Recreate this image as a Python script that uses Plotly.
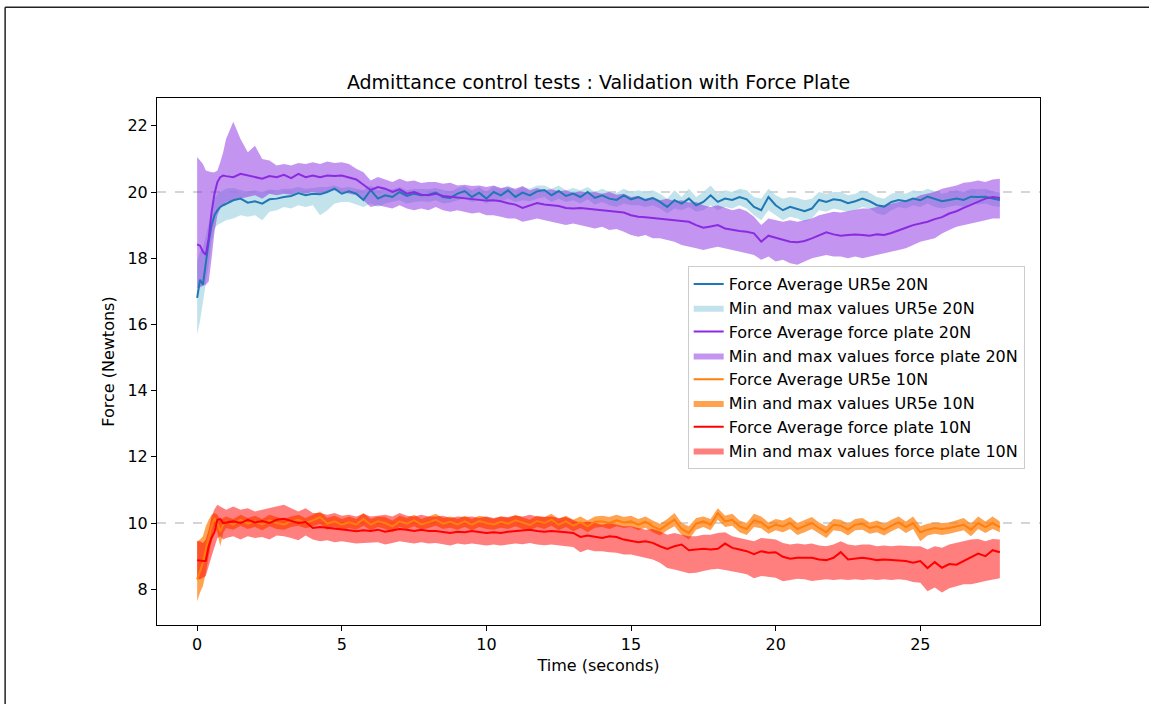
import plotly.graph_objects as go

# Sample times (s): 0.1 s steps during the initial contact, then 0.25 s steps
TIME = [0.0, 0.1, 0.2, 0.3, 0.4, 0.5, 0.6, 0.7, 0.8, 0.9, 1.0] + \
       [round(1.25 + 0.25 * k, 2) for k in range(107)]

# ---- 20 N target ----
ur5e_20_avg = [
    16.8, 17.35, 17.2, 17.9, 18.5, 19.0, 19.3, 19.45, 19.55, 19.6, 19.65,
    19.75, 19.8, 19.68, 19.72,
    19.65, 19.78, 19.8, 19.85,
    19.88, 19.97, 19.9, 19.95,
    19.93, 20.0, 20.1, 19.95,
    20.02, 19.95, 19.76, 20.06,
    19.8, 19.9, 19.85, 20.0,
    19.88, 19.95, 19.9, 19.92,
    19.98, 19.85, 19.82, 19.95,
    20.03, 19.85, 19.98, 19.8,
    20.0, 19.9, 20.05, 19.85,
    19.98, 19.9, 20.02, 20.06,
    19.9, 20.03, 19.88, 19.95,
    19.85, 20.0, 19.82, 19.9,
    19.8, 19.76, 19.9, 19.78,
    19.85, 19.75, 19.82, 19.7,
    19.55, 19.75, 19.65, 19.8,
    19.6, 19.7, 19.9, 19.7,
    19.8, 19.76, 19.85, 19.78,
    19.55, 19.45, 19.85, 19.6,
    19.45, 19.55, 19.48, 19.42,
    19.5, 19.76, 19.7, 19.78,
    19.75, 19.66, 19.72, 19.8,
    19.72, 19.6, 19.56, 19.7,
    19.76, 19.72, 19.8, 19.75,
    19.86, 19.78, 19.72, 19.76,
    19.8, 19.76, 19.86, 19.85,
    19.86, 19.8, 19.76,
]
ur5e_20_min = [
    15.7, 16.1, 16.6, 17.2, 17.8, 18.5, 18.9, 19.0, 19.05, 19.1, 19.15,
    19.2, 19.3, 19.25, 19.3,
    19.15, 19.4, 19.45, 19.55,
    19.5, 19.6, 19.55, 19.6,
    19.3, 19.45, 19.65, 19.7,
    19.7, 19.62, 19.55, 19.65,
    19.55, 19.65, 19.7, 19.75,
    19.65, 19.7, 19.72, 19.7,
    19.75, 19.65, 19.68, 19.75,
    19.8, 19.7, 19.75, 19.65,
    19.8, 19.72, 19.8, 19.7,
    19.75, 19.72, 19.8, 19.85,
    19.7, 19.8, 19.7, 19.75,
    19.65, 19.78, 19.62, 19.7,
    19.6, 19.55, 19.65, 19.6,
    19.6, 19.55, 19.6, 19.5,
    19.35, 19.5, 19.45, 19.55,
    19.4, 19.45, 19.6, 19.45,
    19.55, 19.5, 19.6, 19.5,
    19.3, 19.15, 19.45, 19.3,
    19.15, 19.25, 19.2, 19.1,
    19.2, 19.45, 19.4, 19.5,
    19.45, 19.4, 19.45, 19.55,
    19.5, 19.35, 19.3, 19.45,
    19.55, 19.5, 19.6, 19.55,
    19.65, 19.55, 19.5, 19.55,
    19.6, 19.55, 19.65, 19.62,
    19.65, 19.58, 19.55,
]
ur5e_20_max = [
    17.9, 18.2, 18.3, 18.7, 19.1, 19.5, 19.8, 19.95, 20.0, 20.05, 20.1,
    20.12, 20.05, 20.0, 20.05,
    20.0, 20.08, 20.05, 20.1,
    20.1, 20.15, 20.1, 20.12,
    20.15, 20.15, 20.2, 20.12,
    20.15, 20.1, 20.05, 20.2,
    20.05, 20.1, 20.08, 20.15,
    20.05, 20.1, 20.1, 20.08,
    20.12, 20.05, 20.0, 20.12,
    20.18, 20.05, 20.15, 20.0,
    20.18, 20.1, 20.2, 20.05,
    20.15, 20.1, 20.2, 20.2,
    20.1, 20.2, 20.05, 20.12,
    20.05, 20.15, 20.0, 20.1,
    20.0, 19.98, 20.1, 20.0,
    20.05, 20.0, 20.05, 19.95,
    19.8, 20.05, 19.85, 20.1,
    19.85, 20.0, 20.2, 19.95,
    20.05, 20.0, 20.1, 20.05,
    19.85, 19.8, 20.1, 19.9,
    19.8, 19.85, 19.82, 19.75,
    19.8, 20.0, 19.95, 20.0,
    20.0, 19.9, 19.95, 20.05,
    19.98, 19.85, 19.8, 19.95,
    20.0, 19.95, 20.05, 20.0,
    20.1, 20.02, 19.95, 20.0,
    20.05, 20.0, 20.1, 20.08,
    20.1, 20.02, 19.98,
]
plate_20_avg = [
    18.42, 18.38, 18.2, 18.1, 18.6, 19.4, 19.95, 20.3, 20.45, 20.5, 20.48,
    20.45, 20.55, 20.5, 20.45,
    20.4, 20.48, 20.45, 20.52,
    20.42, 20.55, 20.45, 20.5,
    20.45, 20.5, 20.48, 20.5,
    20.45, 20.38, 20.22, 20.06,
    20.15, 20.1, 20.0, 20.08,
    19.95, 20.0, 19.92, 19.9,
    19.95, 19.88, 19.86, 19.84,
    19.82, 19.8, 19.78, 19.74,
    19.75, 19.72, 19.66, 19.62,
    19.52, 19.6, 19.67, 19.62,
    19.6, 19.58, 19.52, 19.5,
    19.52, 19.5, 19.46, 19.45,
    19.42, 19.42, 19.38, 19.3,
    19.25, 19.24, 19.22, 19.2,
    19.17, 19.15, 19.12, 19.1,
    19.0, 18.92, 18.96, 19.0,
    18.9, 18.85, 18.82, 18.8,
    18.75, 18.5, 18.68, 18.62,
    18.55, 18.5, 18.48, 18.52,
    18.6, 18.68, 18.78, 18.72,
    18.68, 18.7, 18.72, 18.7,
    18.68, 18.72, 18.7, 18.76,
    18.85, 18.92, 19.0, 19.05,
    19.1, 19.18, 19.24, 19.35,
    19.42, 19.52, 19.62, 19.7,
    19.8, 19.85, 19.82,
]
plate_20_min = [
    17.1, 17.12, 17.15, 17.2, 17.3, 18.0, 18.8, 19.3, 19.5, 19.6, 19.7,
    19.75, 19.8, 19.85, 19.9,
    19.8, 19.95, 19.9, 19.95,
    19.92, 20.0, 19.95, 20.0,
    19.95, 20.0, 20.05, 19.98,
    19.95, 19.9, 19.75, 19.55,
    19.6, 19.55, 19.5, 19.6,
    19.5, 19.45, 19.5, 19.45,
    19.55, 19.45, 19.4, 19.45,
    19.4, 19.35, 19.38, 19.3,
    19.3, 19.25, 19.2, 19.2,
    19.1, 19.15, 19.2, 19.15,
    19.1, 19.05, 19.0, 19.05,
    19.0, 18.95, 18.9, 18.95,
    18.85, 18.88, 18.8, 18.7,
    18.65, 18.7, 18.6, 18.6,
    18.55, 18.5, 18.4, 18.35,
    18.3, 18.25, 18.3, 18.35,
    18.3, 18.25, 18.2, 18.15,
    18.1, 17.95, 18.05, 17.9,
    17.95, 17.85, 17.8, 17.9,
    18.0, 18.05, 18.1, 18.05,
    18.05, 18.0, 18.05, 18.0,
    18.05, 18.1, 18.15, 18.2,
    18.25, 18.3, 18.4, 18.5,
    18.55, 18.6, 18.75, 18.85,
    18.95, 19.0, 19.05, 19.1,
    19.15, 19.2, 19.2,
]
plate_20_max = [
    21.06, 20.95, 20.85, 20.65, 20.62, 20.6, 20.6, 20.65, 20.9, 21.2, 21.6,
    22.12, 21.6, 21.2, 21.4,
    21.0, 20.95, 20.8, 20.85,
    20.8, 20.88, 20.85, 20.9,
    20.85, 20.92, 20.88, 20.9,
    20.85, 20.7, 20.6, 20.35,
    20.45, 20.38, 20.3, 20.4,
    20.32, 20.35, 20.27, 20.3,
    20.3, 20.25, 20.28, 20.2,
    20.22, 20.18, 20.2, 20.15,
    20.2, 20.12, 20.15, 20.1,
    20.18, 20.05, 20.12, 20.05,
    20.08, 20.02, 20.05, 19.98,
    20.02, 19.98, 20.0, 19.95,
    20.0, 19.92, 19.95, 19.85,
    19.88, 19.8, 19.85, 19.75,
    19.8, 19.72, 19.75, 19.68,
    19.7, 19.6, 19.55, 19.6,
    19.52, 19.45, 19.5, 19.42,
    19.25, 19.0, 19.2, 19.15,
    19.1, 19.15, 19.1, 19.15,
    19.2, 19.3, 19.35, 19.4,
    19.38, 19.42, 19.45, 19.5,
    19.5, 19.55, 19.6, 19.65,
    19.7, 19.75, 19.8, 19.9,
    19.95, 20.0, 20.1, 20.15,
    20.2, 20.28, 20.3, 20.35,
    20.3, 20.38, 20.4,
]

# ---- 10 N target ----
ur5e_10_avg = [
    8.3, 8.55, 8.8, 9.2, 9.55, 9.9, 10.15, 10.0, 9.75, 9.95, 10.05,
    9.95, 10.1, 9.98, 10.05,
    9.95, 10.08, 10.0, 9.96,
    10.05, 10.1, 10.0, 10.08,
    10.18, 9.98, 10.05, 9.95,
    10.02, 9.96, 10.12, 9.95,
    10.05, 10.0, 9.9, 10.05,
    9.98, 10.08, 9.96, 10.02,
    10.1, 9.98, 10.04, 9.96,
    10.05, 9.95, 10.06, 10.0,
    9.96, 10.04, 9.98, 10.08,
    10.0, 9.94, 10.06, 10.0,
    10.1, 9.95, 10.05, 9.92,
    10.02, 9.9, 10.04, 10.05,
    10.0, 10.08, 10.02, 10.05,
    9.95, 10.04, 9.9, 9.8,
    9.95, 10.1, 9.82, 9.7,
    9.98, 10.05, 9.95, 10.3,
    10.05, 10.1, 9.9, 9.82,
    10.08, 10.02, 9.85, 9.95,
    9.9, 10.0, 9.82, 9.9,
    10.0, 9.85, 9.72, 9.95,
    9.92, 9.8, 9.95, 9.98,
    9.85, 9.9, 9.8, 9.92,
    10.02, 9.88, 10.0, 9.72,
    9.8, 9.85, 9.82, 9.85,
    9.9, 9.95, 9.8, 10.0,
    9.88, 10.0, 9.88,
]
ur5e_10_min = [
    7.64, 7.9, 8.1, 8.5, 9.0, 9.5, 9.9, 9.7, 9.3, 9.7, 9.85,
    9.8, 9.92, 9.82, 9.88,
    9.78, 9.9, 9.82, 9.8,
    9.88, 9.92, 9.84, 9.9,
    9.98, 9.8, 9.88, 9.78,
    9.85, 9.8, 9.92, 9.78,
    9.88, 9.82, 9.72, 9.88,
    9.82, 9.9, 9.8, 9.85,
    9.92, 9.82, 9.86, 9.8,
    9.88, 9.78, 9.88, 9.82,
    9.8, 9.86, 9.82, 9.9,
    9.82, 9.78, 9.88, 9.82,
    9.92, 9.78, 9.88, 9.75,
    9.85, 9.72, 9.86, 9.88,
    9.82, 9.9, 9.85, 9.88,
    9.78, 9.86, 9.72, 9.62,
    9.78, 9.9, 9.64, 9.5,
    9.8, 9.88, 9.78, 10.1,
    9.88, 9.92, 9.72, 9.64,
    9.88, 9.84, 9.68, 9.78,
    9.72, 9.82, 9.64, 9.72,
    9.82, 9.68, 9.55, 9.78,
    9.75, 9.62, 9.78, 9.8,
    9.68, 9.72, 9.62, 9.75,
    9.85, 9.7, 9.82, 9.45,
    9.62, 9.68, 9.64, 9.68,
    9.72, 9.78, 9.6, 9.82,
    9.7, 9.82, 9.72,
]
ur5e_10_max = [
    9.45, 9.5, 9.6, 9.9, 10.1, 10.25, 10.3, 10.25, 10.1, 10.15, 10.2,
    10.12, 10.25, 10.15, 10.22,
    10.12, 10.25, 10.18, 10.12,
    10.2, 10.25, 10.15, 10.25,
    10.35, 10.15, 10.22, 10.12,
    10.2, 10.12, 10.3, 10.12,
    10.2, 10.18, 10.08, 10.22,
    10.15, 10.25, 10.12, 10.2,
    10.28, 10.15, 10.2, 10.12,
    10.22, 10.12, 10.22, 10.18,
    10.12, 10.2, 10.15, 10.25,
    10.18, 10.1, 10.22, 10.18,
    10.28, 10.12, 10.22, 10.1,
    10.2, 10.08, 10.2, 10.22,
    10.18, 10.25, 10.18, 10.22,
    10.12, 10.2, 10.08, 9.98,
    10.12, 10.3, 10.0, 9.9,
    10.15, 10.2, 10.12, 10.45,
    10.22, 10.28, 10.08, 10.0,
    10.28, 10.2, 10.02, 10.12,
    10.08, 10.18, 10.0, 10.08,
    10.18, 10.02, 9.9, 10.12,
    10.1, 9.98, 10.12, 10.15,
    10.02, 10.08, 9.98, 10.1,
    10.2, 10.05, 10.2, 9.9,
    9.98, 10.02, 10.0, 10.02,
    10.08, 10.15, 9.98, 10.2,
    10.05, 10.2, 10.05,
]
plate_10_avg = [
    8.88, 8.86, 8.85, 8.86, 9.3, 9.55, 9.73, 10.1, 10.12, 10.0, 10.02,
    10.05, 10.0, 10.1, 10.02,
    10.06, 10.0, 10.1, 10.13,
    10.06, 10.0, 10.03, 9.85,
    9.88, 9.86, 9.82, 9.8,
    9.78, 9.75, 9.78, 9.76,
    9.8, 9.74, 9.78, 9.82,
    9.8, 9.76, 9.8, 9.76,
    9.76, 9.72, 9.7, 9.74,
    9.72, 9.76, 9.72, 9.7,
    9.72, 9.7, 9.74, 9.76,
    9.78, 9.8, 9.76, 9.74,
    9.76, 9.75, 9.72, 9.7,
    9.58, 9.62, 9.58, 9.55,
    9.6, 9.58, 9.5, 9.45,
    9.42, 9.45, 9.4, 9.3,
    9.22, 9.3, 9.35, 9.18,
    9.2, 9.22, 9.2, 9.22,
    9.38, 9.25, 9.2, 9.15,
    9.06, 9.15, 9.1, 9.12,
    8.98, 8.92, 8.95, 8.95,
    8.95, 8.9, 8.88, 8.95,
    9.12, 8.9, 8.92, 8.95,
    8.92, 8.88, 8.9, 8.88,
    8.88, 8.85, 8.8, 8.85,
    8.64, 8.82, 8.65, 8.76,
    8.74, 8.85, 8.95, 9.08,
    9.0, 9.18, 9.12,
]
plate_10_min = [
    8.3, 8.3, 8.35, 8.4, 8.7, 9.0, 9.3, 9.55, 9.6, 9.5, 9.55,
    9.6, 9.5, 9.6, 9.55,
    9.58, 9.5, 9.62, 9.6,
    9.55, 9.48, 9.62, 9.5,
    9.45, 9.48, 9.42, 9.45,
    9.42, 9.38, 9.4, 9.42,
    9.42, 9.35, 9.4, 9.45,
    9.42, 9.38, 9.42, 9.38,
    9.4, 9.35, 9.32, 9.38,
    9.35, 9.38, 9.35, 9.32,
    9.35, 9.32, 9.36, 9.38,
    9.36, 9.4, 9.35, 9.33,
    9.35, 9.32, 9.3, 9.28,
    9.12, 9.2, 9.15, 9.15,
    9.12, 9.1, 9.05, 9.05,
    9.0, 8.95, 8.9, 8.8,
    8.64, 8.6, 8.55, 8.48,
    8.5, 8.55, 8.6, 8.62,
    8.58, 8.55, 8.5, 8.45,
    8.33, 8.4, 8.38, 8.35,
    8.24, 8.28, 8.32, 8.3,
    8.25, 8.28, 8.3, 8.28,
    8.3, 8.28, 8.3, 8.28,
    8.3, 8.28, 8.3, 8.28,
    8.3, 8.28, 8.22, 8.2,
    7.94, 8.05, 7.9, 8.03,
    8.1, 8.15, 8.15, 8.2,
    8.25, 8.3, 8.33,
]
plate_10_max = [
    9.45, 9.45, 9.4, 9.5, 9.8, 10.2, 10.42, 10.55, 10.5, 10.45, 10.4,
    10.5, 10.4, 10.45, 10.35,
    10.4, 10.45, 10.5, 10.55,
    10.45, 10.35, 10.45, 10.3,
    10.3, 10.25, 10.3, 10.22,
    10.25, 10.2, 10.28, 10.2,
    10.22, 10.25, 10.2, 10.3,
    10.22, 10.2, 10.25, 10.2,
    10.2, 10.22, 10.15, 10.2,
    10.18, 10.2, 10.15, 10.2,
    10.15, 10.2, 10.18, 10.22,
    10.2, 10.25, 10.2, 10.18,
    10.2, 10.15, 10.18, 10.1,
    10.0, 10.05, 10.0, 9.95,
    10.0, 9.95, 9.9, 9.9,
    9.85, 9.8, 9.82, 9.75,
    9.65, 9.7, 9.65, 9.6,
    9.6, 9.65, 9.65, 9.7,
    9.72, 9.6, 9.55, 9.5,
    9.45, 9.55, 9.52, 9.5,
    9.4, 9.35, 9.38, 9.35,
    9.38, 9.32, 9.3, 9.35,
    9.45, 9.35, 9.32, 9.35,
    9.35, 9.3, 9.32, 9.3,
    9.32, 9.3, 9.3, 9.3,
    9.2, 9.3, 9.25, 9.35,
    9.4, 9.45, 9.5, 9.52,
    9.45, 9.52, 9.5,
]

TARGETS = [20, 10]

# (average, min, max, average label, band label, line colour, band colour)
SERIES = [
    (ur5e_20_avg, ur5e_20_min, ur5e_20_max,
     "Force Average UR5e 20N", "Min and max values UR5e 20N",
     "#1f77b4", "rgba(173,216,230,0.75)"),
    (plate_20_avg, plate_20_min, plate_20_max,
     "Force Average force plate 20N", "Min and max values force plate 20N",
     "#8a2be2", "rgba(138,43,226,0.5)"),
    (ur5e_10_avg, ur5e_10_min, ur5e_10_max,
     "Force Average UR5e 10N", "Min and max values UR5e 10N",
     "#ff7f0e", "rgba(255,127,14,0.72)"),
    (plate_10_avg, plate_10_min, plate_10_max,
     "Force Average force plate 10N", "Min and max values force plate 10N",
     "#ff0000", "rgba(255,0,0,0.5)"),
]

FONT = "DejaVu Sans"
fig = go.Figure()

# min/max envelopes first, so every average line sits on top of them
for i, (avg, lo, hi, lab_avg, lab_band, c_line, c_band) in enumerate(SERIES):
    fig.add_trace(go.Scatter(
        x=TIME + TIME[::-1], y=hi + lo[::-1],
        fill="toself", fillcolor=c_band, mode="lines",
        line=dict(width=0, color=c_band),
        name=lab_band, legendrank=2 * i + 2, hoverinfo="skip"))

for i, (avg, lo, hi, lab_avg, lab_band, c_line, c_band) in enumerate(SERIES):
    fig.add_trace(go.Scatter(
        x=TIME, y=avg, mode="lines", line=dict(color=c_line, width=2),
        name=lab_avg, legendrank=2 * i + 1))

# dashed reference lines at the force targets
for target in TARGETS:
    fig.add_shape(type="line", xref="paper", x0=0, x1=1, yref="y",
                  y0=target, y1=target, layer="below",
                  line=dict(color="#c8c8c8", width=1.5, dash="dash"))

# outer figure frame (top and left edges)
fig.add_shape(type="line", xref="paper", yref="paper",
              x0=-0.172, x1=1.13, y0=1.172, y1=1.172,
              line=dict(color="#222222", width=1.5))
fig.add_shape(type="line", xref="paper", yref="paper",
              x0=-0.172, x1=-0.172, y0=1.172, y1=-0.16,
              line=dict(color="#222222", width=1.5))

axis_common = dict(showgrid=False, zeroline=False, showline=True, mirror=True,
                   linecolor="black", linewidth=1, ticks="outside", ticklen=5,
                   tickwidth=1, tickcolor="black",
                   tickfont=dict(family=FONT, size=16, color="black"))

fig.update_layout(
    width=1149, height=704,
    margin=dict(l=157, r=109, t=98, b=79),
    paper_bgcolor="white", plot_bgcolor="white",
    font=dict(family=FONT, size=16, color="black"),
    title=dict(text="Admittance control tests : Validation with Force Plate",
               x=(157 + 1040) / 2 / 1149, xanchor="center",
               y=1 - 82 / 704, yanchor="middle",
               font=dict(family=FONT, size=19, color="black")),
    xaxis=dict(range=[-1.3875, 29.1375], tickvals=[0, 5, 10, 15, 20, 25],
               title=dict(text="Time (seconds)", standoff=6,
                          font=dict(family=FONT, size=16)),
               **axis_common),
    yaxis=dict(range=[6.92, 22.84], tickvals=[8, 10, 12, 14, 16, 18, 20, 22],
               title=dict(text="Force (Newtons)", standoff=8,
                          font=dict(family=FONT, size=16)),
               **axis_common),
    legend=dict(x=0.601, y=0.681, xanchor="left", yanchor="top",
                bgcolor="rgba(255,255,255,0.8)", bordercolor="#cccccc",
                borderwidth=1, font=dict(family=FONT, size=16),
                tracegroupgap=0, itemwidth=30),
    showlegend=True,
)

fig.write_html("out.html")
